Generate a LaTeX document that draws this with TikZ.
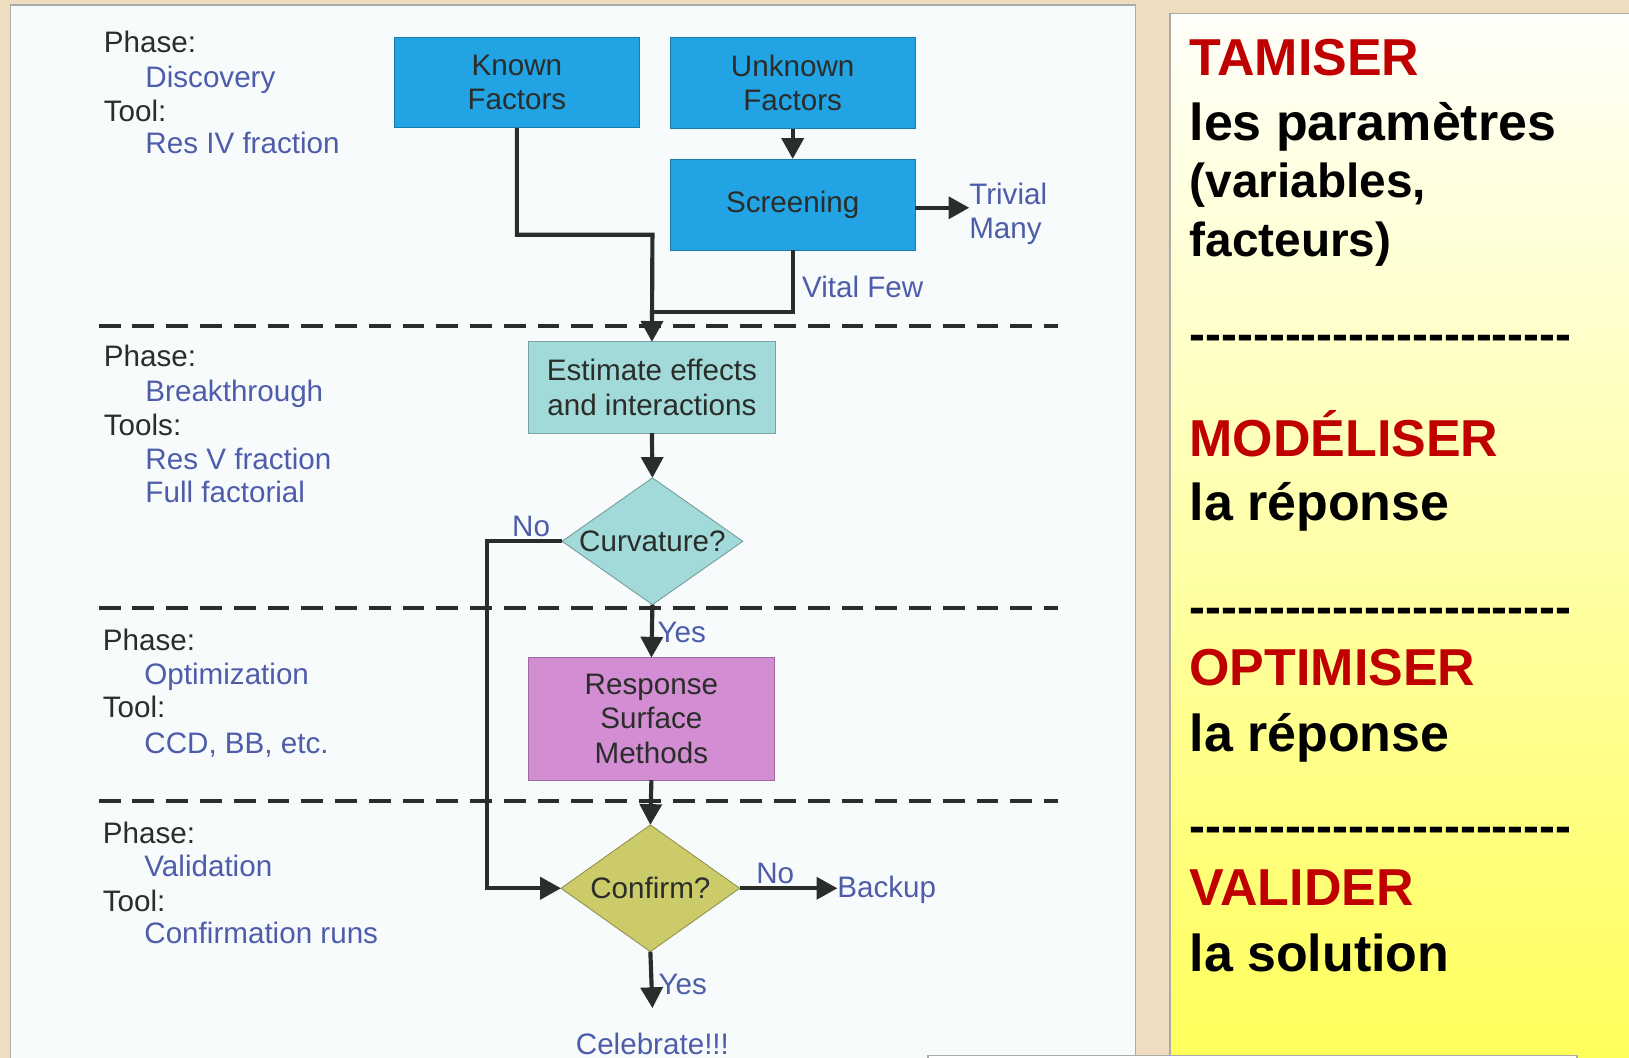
\documentclass[tikz,border=0pt]{standalone}
\usepackage{fontspec}
\setmainfont{Liberation Sans}
\newfontfamily\dashfont{Liberation Sans}
\usetikzlibrary{arrows.meta,shapes.geometric}

\definecolor{parch}{HTML}{EEDEBF}
\definecolor{panelfill}{HTML}{F8FBFC}
\definecolor{panelrule}{HTML}{ABABAB}
\definecolor{ink}{HTML}{2A2D2A}
\definecolor{note}{HTML}{4E5DAA}
\definecolor{factorblue}{HTML}{22A3E4}
\definecolor{tealbox}{HTML}{A2DAD9}
\definecolor{orchid}{HTML}{D28DD3}
\definecolor{olive}{HTML}{CBCB6A}
\definecolor{headred}{HTML}{C00000}
\definecolor{creamtop}{HTML}{FFFFFA}
\definecolor{creammid}{HTML}{FFFFEF}
\definecolor{lemon}{HTML}{FFFF58}

% a row of separate bold hyphens
\newcommand{\sepdashes}{{\dashfont\bfseries\foreach \k in {1,...,24}{-\kern0pt}}}

\tikzset{
  every node/.style={inner sep=0pt, outer sep=0pt},
  diag/.style={font=\fontsize{28.5pt}{33pt}\selectfont, text=ink},
  phase/.style={diag, anchor=base west},
  value/.style={phase, text=note},
  lbl/.style={diag, text=note},
  stepbox/.style={diag, rectangle, draw=#1!75!black, line width=0.8pt, fill=#1, align=center},
  decision/.style={diamond, draw=#1!70!black, fill=#1, line width=0.8pt},
  link/.style={draw=ink, line width=4pt},
  flow/.style={link, -{Triangle[length=20pt,width=21pt]}},
  phaserule/.style={draw=ink, line width=3.8pt, dash pattern=on 21pt off 11.5pt},
  head/.style={anchor=base west, font=\fontsize{50pt}{58pt}\selectfont\bfseries, text=headred},
  body/.style={anchor=base west, font=\fontsize{50pt}{58pt}\selectfont\bfseries, text=black},
  small/.style={anchor=base west, font=\fontsize{46pt}{54pt}\selectfont\bfseries, text=black},
}

\begin{document}
\begin{tikzpicture}[x=1pt,y=-1pt]
\useasboundingbox (0,0) rectangle (1568,1018);

% parchment backdrop and the two panels
\fill[parch] (0,0) rectangle (1568,1018);
\filldraw[fill=panelfill, draw=panelrule, line width=1.5pt] (10,5) rectangle (1093,1040);
\shade[top color=creamtop, middle color=creammid, bottom color=lemon]
  (1126,13) rectangle (1580,1040);
\draw[panelrule, line width=1.5pt] (1126,1040) |- (1580,13);
\filldraw[fill=white, draw=panelrule, line width=1.5pt] (893,1016) rectangle (1518,1060);

% phase separators
\draw[phaserule] (95,314) -- (1018,314);
\draw[phaserule] (95,585) -- (1018,585);
\draw[phaserule] (95,771) -- (1018,771);

% phase descriptions
\node[phase] (ph1)  at (100,51)  {Phase:};
\node[value] (ph1v) at (140,84)  {Discovery};
\node[phase] (tl1)  at (100,117) {Tool:};
\node[value] (tl1v) at (140,148) {Res IV fraction};

\node[phase] (ph2)  at (100,353) {Phase:};
\node[value] (ph2v) at (140,386) {Breakthrough};
\node[phase] (tl2)  at (100,419) {Tools:};
\node[value] (tl2a) at (140,452) {Res V fraction};
\node[value] (tl2b) at (140,484) {Full factorial};

\node[phase] (ph3)  at (99,626) {Phase:};
\node[value] (ph3v) at (139,659) {Optimization};
\node[phase] (tl3)  at (99,691) {Tool:};
\node[value] (tl3v) at (139,725) {CCD, BB, etc.};

\node[phase] (ph4)  at (99,812) {Phase:};
\node[value] (ph4v) at (139,844) {Validation};
\node[phase] (tl4)  at (99,877) {Tool:};
\node[value] (tl4v) at (139,908) {Confirmation runs};

% process steps
\node[stepbox=factorblue, minimum width=235pt, minimum height=87pt] (known)   at (497.5,79.5) {Known\\Factors};
\node[stepbox=factorblue, minimum width=236pt, minimum height=88pt] (unknown) at (763,80)     {Unknown\\Factors};
\node[stepbox=factorblue, minimum width=236pt, minimum height=88pt] (screen)  at (763,197)    {Screening};
\node[stepbox=tealbox, minimum width=237pt, minimum height=88pt] (estimate) at (627.5,373) {Estimate effects\\and interactions};
\node[decision=tealbox, minimum width=174pt, minimum height=122pt,
      label={[diag]center:Curvature?}] (curv) at (628,521) {};
\node[stepbox=orchid, minimum width=237pt, minimum height=118pt] (rsm) at (627,692) {Response\\Surface\\Methods};
\node[decision=olive, minimum width=172pt, minimum height=122pt,
      label={[diag]center:Confirm?}] (confirm) at (626,855) {};

% outcome labels
\node[lbl, align=left, anchor=west] (trivial) at (933,206) {Trivial\\Many};
\node[lbl, anchor=base west] (vital) at (772,286) {Vital Few};
\node[lbl, anchor=base west] (no1) at (493,516) {No};
\node[lbl, anchor=base west] (yes1) at (633,618) {Yes};
\node[lbl, anchor=base west] (no2) at (728,850) {No};
\node[lbl, anchor=base west] (backup) at (806,864) {Backup};
\node[lbl, anchor=base west] (yes2) at (634,957) {Yes};
\node[lbl, anchor=base] (celebrate) at (628,1015) {Celebrate!!!};

% connectors
\coordinate (kturn) at (628,226);
\coordinate (sjoin) at (628,300);
\coordinate (noturn) at (469,521);
\draw[flow] (unknown.south) -- (screen.north);
\draw[flow] ([yshift=-3pt]screen.east) -- ([yshift=-3pt]screen.east -| trivial.west);
\draw[flow] (known.south) |- (kturn) -- (estimate.north);
\draw[link] (screen.south) |- (sjoin);
\draw[flow] (estimate.south) -- (curv.north);
\draw[flow] (curv.south) -- (rsm.north);
\draw[flow] (curv.west) -- (noturn) |- (confirm.west);
\draw[flow] (rsm.south) -- (confirm.north);
\draw[flow] (confirm.east) -- (confirm.east -| backup.west);
\draw[flow] (confirm.south) -- ([yshift=24pt]celebrate.north);

% summary column
\node[head]  (tamiser)   at (1145,73)  {TAMISER};
\node[body]  (tamiser1)  at (1145,135) {les paramètres};
\node[small] (tamiser2)  at (1145,190) {(variables,};
\node[small] (tamiser3)  at (1145,247) {facteurs)};
\node[small] (sep1)      at (1145,337) {\sepdashes};
\node[head]  (modeliser) at (1145,439) {MODÉLISER};
\node[body]  (modeliser1) at (1145,501) {la réponse};
\node[small] (sep2)      at (1145,600) {\sepdashes};
\node[head]  (optimiser) at (1145,660) {OPTIMISER};
\node[body]  (optimiser1) at (1145,723) {la réponse};
\node[small] (sep3)      at (1145,811) {\sepdashes};
\node[head]  (valider)   at (1145,872) {VALIDER};
\node[body]  (valider1)  at (1145,935) {la solution};
\end{tikzpicture}
\end{document}
